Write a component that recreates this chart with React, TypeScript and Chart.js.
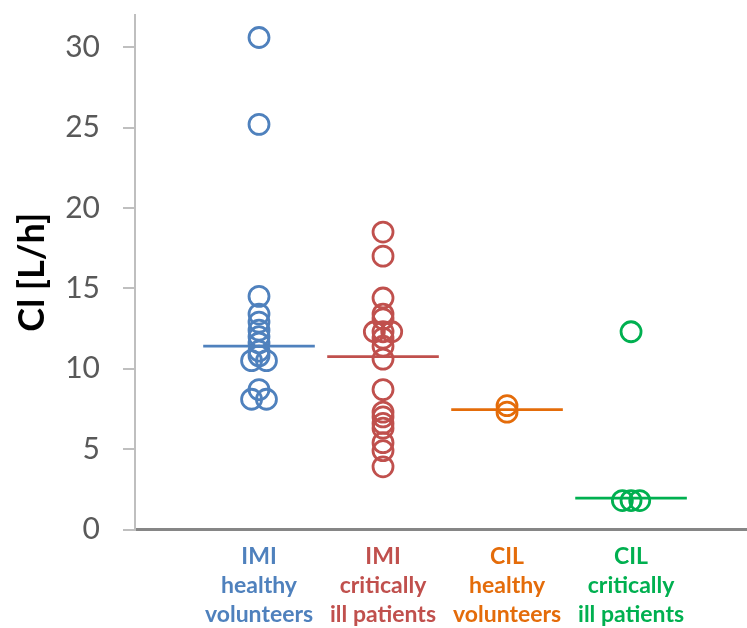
import React, { useEffect, useRef } from "react";
import { Chart, registerables } from "chart.js";

Chart.register(...registerables);

// Group labels (one array of lines per group), drawn under the x axis
const groupLabels: string[][] = [
  ["IMI", "healthy", "volunteers"],
  ["IMI", "critically", "ill patients"],
  ["CIL", "healthy", "volunteers"],
  ["CIL", "critically", "ill patients"],
];

// Clearance values per group, L/h
const imiHealthy: number[] = [30.6, 25.2, 14.5, 13.4, 12.9, 12.4, 12.0, 11.6, 11.1, 10.8, 10.5, 10.5, 8.7, 8.1, 8.1];
const imiCritical: number[] = [18.5, 17.0, 14.4, 13.4, 13.1, 12.3, 12.3, 12.3, 11.9, 11.4, 10.6, 8.7, 7.3, 7.0, 6.6, 6.3, 5.4, 4.9, 3.9];
const cilHealthy: number[] = [7.7, 7.3];
const cilCritical: number[] = [12.3, 1.8, 1.8, 1.8];

// Central value per group (horizontal bar)
const groupCentres: number[] = [11.4, 10.75, 7.45, 1.95];

const yTicks: number[] = [0, 5, 10, 15, 20, 25, 30];

const groupColors = ["#4F81BD", "#C0504D", "#E46C0A", "#00B050"];

// Spread identical values sideways so overlapping circles stay visible
function spread(values: number[], centre: number) {
  const counts = new Map<number, number>();
  values.forEach((v) => counts.set(v, (counts.get(v) || 0) + 1));
  const seen = new Map<number, number>();
  return values.map((v) => {
    const n = counts.get(v) || 1;
    const i = seen.get(v) || 0;
    seen.set(v, i + 1);
    const step = n === 2 ? 0.12 : 0.07;
    return { x: centre + (i - (n - 1) / 2) * (n > 1 ? step : 0), y: v };
  });
}

export default function App() {
  const canvasRef = useRef<HTMLCanvasElement | null>(null);

  useEffect(() => {
    const canvas = canvasRef.current;
    if (!canvas) return;
    const groups = [imiHealthy, imiCritical, cilHealthy, cilCritical];

    const centreLines = groupCentres.map((c, i) => ({
      type: "line" as const,
      data: [
        { x: i + 1 - 0.45, y: c },
        { x: i + 1 + 0.45, y: c },
      ],
      borderColor: groupColors[i],
      borderWidth: 2.8,
      pointRadius: 0,
      showLine: true,
      fill: false,
    }));

    const pointSets = groups.map((vals, i) => ({
      type: "scatter" as const,
      data: spread(vals, i + 1),
      borderColor: groupColors[i],
      backgroundColor: "rgba(0,0,0,0)",
      borderWidth: 2.8,
      pointRadius: 10,
      pointStyle: "circle",
    }));

    const chart = new Chart(canvas, {
      type: "scatter",
      data: { datasets: [...centreLines, ...pointSets] as any },
      options: {
        animation: false,
        responsive: false,
        layout: { autoPadding: false, padding: { top: 15, right: 0, left: 0, bottom: 0 } },
        plugins: { legend: { display: false }, tooltip: { enabled: false } },
        scales: {
          x: {
            type: "linear",
            min: 0,
            max: 4.935,
            afterFit: (scale: any) => {
              scale.height = 98.5;
              scale.paddingLeft = 0;
              scale.paddingRight = 0;
            },
            afterBuildTicks: (scale: any) => {
              scale.ticks = groupLabels.map((_, i) => ({ value: i + 1 }));
            },
            grid: { display: true, drawOnChartArea: false, drawTicks: false },
            border: { display: true, color: "#868686", width: 3 },
            ticks: {
              padding: 13,
              maxRotation: 0,
              autoSkip: false,
              callback: (_v: any, i: number) => groupLabels[i],
              color: (ctx: any) => groupColors[ctx.index] || "#000",
              font: { family: "Lato", size: 23, weight: "bold", lineHeight: "29px" },
            },
          },
          y: {
            type: "linear",
            min: 0,
            max: 32,
            afterFit: (scale: any) => {
              scale.width = 135;
              scale.paddingTop = 0;
              scale.paddingBottom = 0;
            },
            afterBuildTicks: (scale: any) => {
              scale.ticks = yTicks.map((v) => ({ value: v }));
            },
            grid: {
              display: true,
              drawOnChartArea: false,
              drawTicks: true,
              tickLength: 12,
              color: "#BFBFBF",
              lineWidth: 2,
            },
            border: { display: true, color: "#BFBFBF", width: 2 },
            ticks: {
              padding: 23,
              color: "#595959",
              font: { family: "Lato", size: 30 },
            },
            title: {
              display: true,
              text: "Cl [L/h]",
              color: "#000000",
              padding: { top: 11, bottom: 0 },
              font: { family: "Lato", size: 36, weight: "bold" },
            },
          },
        },
      },
    });

    return () => chart.destroy();
  }, []);

  return (
    <div style={{ position: "absolute", left: 0, top: 0, width: 747, height: 628, background: "#fff" }}>
      <canvas ref={canvasRef} width={747} height={628} />
    </div>
  );
}
